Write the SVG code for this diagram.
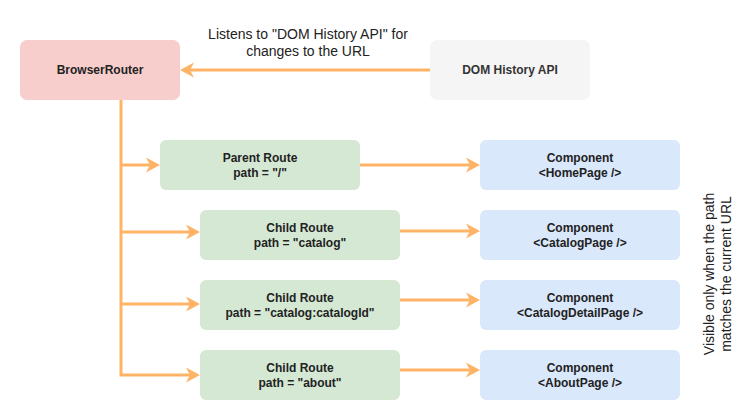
<svg xmlns="http://www.w3.org/2000/svg" width="750" height="420" viewBox="0 0 750 420">
<defs>
<style>
.n{stroke:none}
.red{fill:#f8cecc}
.gray{fill:#f5f5f5}
.green{fill:#d5e8d4}
.blue{fill:#dae8fc}
.t{font-family:"Liberation Sans",Arial,sans-serif;font-size:12px;font-weight:bold;fill:#222;text-anchor:middle}
.lbl{font-family:"Liberation Sans",Arial,sans-serif;font-size:14px;fill:#222;text-anchor:middle}
.c{fill:none;stroke:#ffb366;stroke-width:3}
</style>
<marker id="arr" markerUnits="userSpaceOnUse" markerWidth="16" markerHeight="16" refX="4" refY="8" orient="auto" viewBox="0 0 16 16">
<path d="M0,0.5 L14,8 L0,15.5 L4,8 Z" fill="#ffb366"/>
</marker>
</defs>
<rect width="750" height="420" fill="#ffffff"/>
<g id="connectors">
<path class="c" d="M430,70 H190" marker-end="url(#arr)"/>
<path class="c" d="M121,100 V375 H190" marker-end="url(#arr)"/>
<path class="c" d="M121,165 H150" marker-end="url(#arr)"/>
<path class="c" d="M121,232 H190" marker-end="url(#arr)"/>
<path class="c" d="M121,304 H190" marker-end="url(#arr)"/>
<path class="c" d="M360,165 H470" marker-end="url(#arr)"/>
<path class="c" d="M400,231 H470" marker-end="url(#arr)"/>
<path class="c" d="M400,300 H470" marker-end="url(#arr)"/>
<path class="c" d="M400,370 H470" marker-end="url(#arr)"/>
</g>
<g id="label-listens">
<text class="lbl" x="308" y="39">Listens to "DOM History API" for</text>
<text class="lbl" x="308" y="56">changes to the URL</text>
</g>
<g id="browser-router">
<rect class="n red" x="20" y="40" width="160" height="60" rx="7"/>
<text class="t" x="100" y="74">BrowserRouter</text>
</g>
<g id="dom-history">
<rect class="n gray" x="430" y="40" width="160" height="60" rx="7"/>
<text class="t" x="510" y="74" style="fill:#333">DOM History API</text>
</g>
<g id="parent-route">
<rect class="n green" x="160" y="140" width="200" height="50" rx="6"/>
<text class="t" x="260" y="162">Parent Route</text>
<text class="t" x="260" y="176.5">path = "/"</text>
</g>
<g id="child-catalog">
<rect class="n green" x="200" y="210" width="200" height="50" rx="6"/>
<text class="t" x="300" y="232">Child Route</text>
<text class="t" x="300" y="246.5">path = "catalog"</text>
</g>
<g id="child-catalog-id">
<rect class="n green" x="200" y="280" width="200" height="50" rx="6"/>
<text class="t" x="300" y="302">Child Route</text>
<text class="t" x="300" y="316.5">path = "catalog:catalogId"</text>
</g>
<g id="child-about">
<rect class="n green" x="200" y="350" width="200" height="50" rx="6"/>
<text class="t" x="300" y="372">Child Route</text>
<text class="t" x="300" y="386.5">path = "about"</text>
</g>
<g id="comp-home">
<rect class="n blue" x="480" y="140" width="200" height="50" rx="6"/>
<text class="t" x="580" y="162">Component</text>
<text class="t" x="580" y="176.5">&lt;HomePage /&gt;</text>
</g>
<g id="comp-catalog">
<rect class="n blue" x="480" y="210" width="200" height="50" rx="6"/>
<text class="t" x="580" y="232">Component</text>
<text class="t" x="580" y="246.5">&lt;CatalogPage /&gt;</text>
</g>
<g id="comp-catalog-detail">
<rect class="n blue" x="480" y="280" width="200" height="50" rx="6"/>
<text class="t" x="580" y="302">Component</text>
<text class="t" x="580" y="316.5">&lt;CatalogDetailPage /&gt;</text>
</g>
<g id="comp-about">
<rect class="n blue" x="480" y="350" width="200" height="50" rx="6"/>
<text class="t" x="580" y="372">Component</text>
<text class="t" x="580" y="386.5">&lt;AboutPage /&gt;</text>
</g>
<g id="label-visible">
<text class="lbl" transform="translate(714,274) rotate(-90)" x="0" y="0">Visible only when the path</text>
<text class="lbl" transform="translate(730.5,274) rotate(-90)" x="0" y="0">matches the current URL</text>
</g>
</svg>
